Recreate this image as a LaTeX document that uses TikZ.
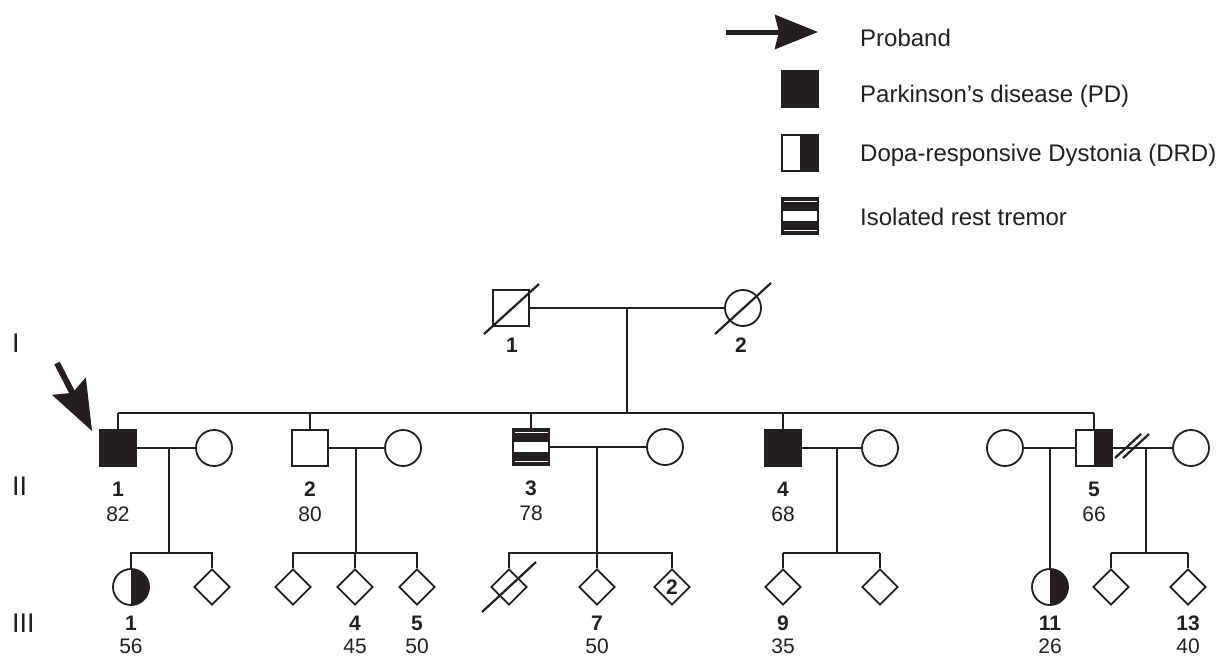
\documentclass[tikz,border=0pt]{standalone}
\usepackage{fontspec}
\setmainfont{Liberation Sans}
\usetikzlibrary{shapes.geometric,arrows.meta,calc}
\definecolor{ink}{RGB}{35,31,32}
\begin{document}
\begin{tikzpicture}[x=1pt,y=-1pt,
  ind/.style={draw=ink, line width=1.8pt, inner sep=0pt, minimum size=36pt, fill=white},
  sq/.style={ind, rectangle},
  ci/.style={ind, circle},
  di/.style={ind, diamond},
  aff/.style={fill=ink},
  half/.style={path picture={\fill[ink] (path picture bounding box.north) rectangle (path picture bounding box.south east);}},
  tremor/.style={fill=ink, path picture={
     \fill[white] ($(path picture bounding box.west)+(0,-4.8)$) rectangle ($(path picture bounding box.east)+(0,4.8)$);
     \draw[white,line width=0.9pt] ($(path picture bounding box.north west)+(1.5,3.4)$) -- ($(path picture bounding box.north east)+(-1.5,3.4)$);
     \draw[white,line width=0.9pt] ($(path picture bounding box.south west)+(1.5,-3.4)$) -- ($(path picture bounding box.south east)+(-1.5,-3.4)$);}},
  conn/.style={draw=ink, line width=2.8pt},
  thin/.style={draw=ink, line width=1.6pt},
  sib/.style={draw=ink, line width=2pt},
  slash/.style={draw=ink, line width=2.2pt},
  legtext/.style={anchor=base west, inner sep=0pt, font=\fontsize{24}{28}\selectfont, text=ink},
  numb/.style={anchor=base, inner sep=0pt, font=\fontsize{21}{24}\selectfont\bfseries, text=ink},
  age/.style={anchor=base, inner sep=0pt, font=\fontsize{21}{24}\selectfont, text=ink},
  gen/.style={anchor=base west, inner sep=0pt, font=\fontsize{27}{30}\selectfont, text=ink}
]
\useasboundingbox (0,0) rectangle (1228,657);

% ---------------- legend ----------------
\coordinate (la0) at (726,32);
\coordinate (la1) at (818,32);
\draw[ink, line width=5pt, -{Stealth[length=43pt,width=34pt,inset=4pt]}] (la0) -- (la1);
\node[legtext] (tProband) at (860,46.5) {Proband};
\node[sq, aff] (legPD) at (800,89) {};
\node[legtext] (tPD) at (860,102) {Parkinson’s disease (PD)};
\node[sq, half] (legDRD) at (800,153) {};
\node[legtext] (tDRD) at (860,161) {Dopa-responsive Dystonia (DRD)};
\node[sq, tremor] (legTR) at (800,216) {};
\node[legtext] (tTR) at (860,225) {Isolated rest tremor};

% ---------------- generation labels ----------------
\node[gen] (gI) at (12,352) {I};
\node[gen] (gII) at (12,495) {II};
\node[gen] (gIII) at (12,632) {III};

% ---------------- generation I ----------------
\node[sq] (I1) at (511,308) {};
\node[ci] (I2) at (743,308) {};
\draw[conn] (I1) -- (I2);
\draw[slash] ($(I1)+(-27,26)$) -- ($(I1)+(28,-24)$);
\draw[slash] ($(I2)+(-28,26)$) -- ($(I2)+(28,-25)$);
\node[numb] (lI1) at ($(I1)+(1,44)$) {1};
\node[numb] (lI2) at ($(I2)+(-2,44)$) {2};
\coordinate (m1) at (627,308);
\coordinate (s2m) at (627,413);
\draw[conn] (m1) -- (s2m);

% ---------------- generation II ----------------
\node[sq, aff] (II1) at (118,448) {};
\node[ci] (sp1) at (214,448) {};
\node[sq] (II2) at (310,448) {};
\node[ci] (sp2) at (403,448) {};
\node[sq, tremor] (II3) at (531,447) {};
\node[ci] (sp3) at (665,447) {};
\node[sq, aff] (II4) at (783,448) {};
\node[ci] (sp4) at (880,448) {};
\node[ci] (sp5a) at (1005,448) {};
\node[sq, half] (II5) at (1094,448) {};
\node[ci] (sp5b) at (1191,448) {};

\coordinate (s2L) at (118,413);
\coordinate (s2R) at (1094,413);
\draw[thin] (s2L) -- (s2R);
\draw[thin] (II1.north) -- (II1.north |- s2L);
\draw[conn] (II2.north) -- (II2.north |- s2L);
\draw[conn] (II3.north) -- (II3.north |- s2L);
\draw[conn] (II4.north) -- (II4.north |- s2L);
\draw[conn] (II5.north) -- (II5.north |- s2L);

\foreach \n/\a/\nm in {II1/82/1, II2/80/2, II3/78/3, II4/68/4, II5/66/5}{
  \node[numb] (l\n) at ($(\n)+(0,48)$) {\nm};
  \node[age] (a\n) at ($(\n)+(0,73)$) {\a};
}

% proband arrow
\coordinate (pa0) at (57,363);
\coordinate (pa1) at ($(II1.north west)+(-7,2)$);
\draw[ink, line width=6pt, -{Stealth[length=50pt,width=37pt,inset=7pt]}] (pa0) -- (pa1);

% marriages
\draw[conn] (II1) -- (sp1);
\draw[conn] (II2) -- (sp2);
\draw[conn] (II3) -- (sp3);
\draw[conn] (II4) -- (sp4);
\draw[thin] (sp5a) -- (II5);
\draw[conn] (II5) -- (sp5b);
\coordinate (dv1) at (1128,446);
\draw[slash] ($(dv1)+(-13,12)$) -- ($(dv1)+(13,-12)$);
\draw[slash] ($(dv1)+(-5,12)$) -- ($(dv1)+(21,-12)$);

% ---------------- generation III ----------------
\node[ci, half] (III1) at (131,587) {};
\node[di] (III2) at (212,587) {};
\node[di] (III3) at (293,587) {};
\node[di] (III4) at (355,587) {};
\node[di] (III5) at (417,587) {};
\node[di] (III6) at (509,587) {};
\node[di] (III7) at (597,587) {};
\node[di, font=\fontsize{21}{24}\selectfont\bfseries, text=ink] (III8) at (672,587) {2};
\node[di] (III9) at (783,587) {};
\node[di] (III10) at (880,587) {};
\node[ci, half] (III11) at (1050,587) {};
\node[di] (III12) at (1111,587) {};
\node[di] (III13) at (1188,587) {};
\draw[slash] ($(III6)+(-27,25)$) -- ($(III6)+(27,-25)$);

% descent lines
\coordinate (d1) at (169,448);  \coordinate (r1) at (169,553);
\coordinate (d2) at (356,448);  \coordinate (r2) at (356,553);
\coordinate (d3) at (597,447);  \coordinate (r3) at (597,553);
\coordinate (d4) at (837,448);  \coordinate (r4) at (837,553);
\coordinate (d5) at (1050,448);
\coordinate (d6) at (1146,448); \coordinate (r6) at (1146,553);
\draw[conn] (d1) -- (r1);
\draw[conn] (d2) -- (r2);
\draw[conn] (d3) -- (r3);
\draw[conn] (d4) -- (r4);
\draw[conn] (d5) -- (III11.north);
\draw[conn] (d6) -- (r6);

% sibships
\draw[sib] (III1.north) -- (III1.north |- r1) -- (III2.north |- r1) -- (III2.north);
\draw[sib] (III3.north) -- (III3.north |- r2) -- (III5.north |- r2) -- (III5.north);
\draw[conn] (III4.north) -- (III4.north |- r2);
\draw[sib] (III6.north) -- (III6.north |- r3) -- (III8.north |- r3) -- (III8.north);
\draw[conn] (III7.north) -- (III7.north |- r3);
\draw[sib] (III9.north) -- (III9.north |- r4);
\draw[conn] (III9.north |- r4) -- (III10.north |- r4);
\draw[sib] (III10.north |- r4) -- (III10.north);
\draw[sib] (III12.north) -- (III12.north |- r6);
\draw[conn] (III12.north |- r6) -- (III13.north |- r6);
\draw[sib] (III13.north |- r6) -- (III13.north);

\foreach \n/\a/\nm in {III1/56/1, III4/45/4, III5/50/5, III7/50/7, III9/35/9, III11/26/11, III13/40/13}{
  \node[numb] (l\n) at ($(\n)+(0,43)$) {\nm};
  \node[age] (a\n) at ($(\n)+(0,66)$) {\a};
}
\end{tikzpicture}
\end{document}
